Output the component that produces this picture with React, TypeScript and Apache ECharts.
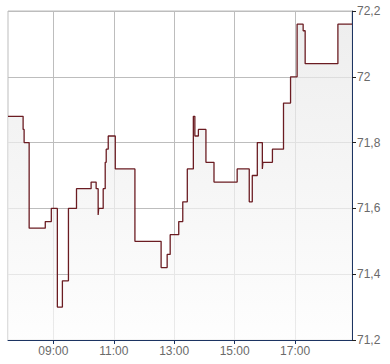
import React, { useEffect, useRef } from "react";
import * as echarts from "echarts";

// time in minutes since midnight, value
const times = [
  450, 480, 482, 492, 524, 536, 548, 558, 570, 586, 615, 625, 629, 630, 639, 643, 645, 649,
  663, 702, 754, 766, 772, 789, 797, 806, 818, 821, 828, 843, 859, 905, 929, 935, 945, 955,
  956, 975, 997, 1011, 1024, 1036, 1040, 1105, 1133,
];
const values = [
  71.88, 71.84, 71.8, 71.54, 71.56, 71.6, 71.3, 71.38, 71.6, 71.66, 71.68, 71.66, 71.58, 71.6,
  71.66, 71.74, 71.78, 71.82, 71.72, 71.5, 71.42, 71.46, 71.52, 71.56, 71.62, 71.72, 71.88,
  71.82, 71.84, 71.74, 71.68, 71.72, 71.62, 71.7, 71.8, 71.72, 71.74, 71.78, 71.92, 72.0,
  72.16, 72.14, 72.04, 72.16, 72.16,
];
const xTicks = [540, 660, 780, 900, 1020];
const xMin = 450;
const xMax = 1133;
const yMin = 71.2;
const yMax = 72.2;
const yStep = 0.2;

const fmtTime = (v: number) => {
  const h = Math.floor(v / 60);
  const m = Math.round(v % 60);
  return String(h).padStart(2, "0") + ":" + String(m).padStart(2, "0");
};
const fmtVal = (v: number) => String(Math.round(v * 10) / 10).replace(".", ",");

export default function App() {
  const ref = useRef<HTMLDivElement>(null);
  useEffect(() => {
    if (!ref.current) return;
    const chart = echarts.init(ref.current, null, { renderer: "svg" });
    const axisColor = "#1c3462";
    const gridColor = "#bdbdbd";
    const font = "'Liberation Sans', Arial, sans-serif";
    chart.setOption({
      animation: false,
      backgroundColor: "#ffffff",
      grid: {
        left: 8,
        top: 11,
        right: 38,
        bottom: 24,
        show: true,
        borderColor: gridColor,
        borderWidth: 1,
        backgroundColor: "transparent",
      },
      xAxis: {
        type: "value",
        min: xMin,
        max: xMax,
        axisLine: { show: true, lineStyle: { color: axisColor, width: 1 } },
        axisTick: {
          show: true,
          customValues: xTicks,
          length: 4,
          lineStyle: { color: axisColor },
        },
        axisLabel: {
          customValues: xTicks,
          formatter: (v: number) => fmtTime(v),
          color: "#6a6a6a",
          fontSize: 12,
          fontFamily: font,
          margin: 5,
        },
        splitLine: { show: true, lineStyle: { color: gridColor, width: 1 } },
      },
      yAxis: {
        type: "value",
        position: "right",
        min: yMin,
        max: yMax,
        interval: yStep,
        axisLine: { show: true, lineStyle: { color: axisColor, width: 1 } },
        axisTick: { show: true, length: 4, lineStyle: { color: "#222" } },
        axisLabel: {
          formatter: (v: number) => fmtVal(v),
          color: "#6a6a6a",
          fontSize: 12,
          fontFamily: font,
          margin: 5,
        },
        splitLine: { show: true, lineStyle: { color: gridColor, width: 1 } },
      },
      series: [
        {
          type: "line",
          step: "end",
          symbol: "none",
          data: times.map((t, i) => [t, values[i]]),
          lineStyle: { color: "#6b1c22", width: 1.3 },
          areaStyle: {
            color: new echarts.graphic.LinearGradient(0, 0, 0, 1, [
              { offset: 0, color: "#e7e7e7" },
              { offset: 1, color: "#fdfdfd" },
            ]),
            origin: "start",
          },
        },
      ],
    });
    return () => chart.dispose();
  }, []);
  return (
    <div
      ref={ref}
      style={{ position: "fixed", left: 0, top: 0, width: 390, height: 364 }}
    />
  );
}
